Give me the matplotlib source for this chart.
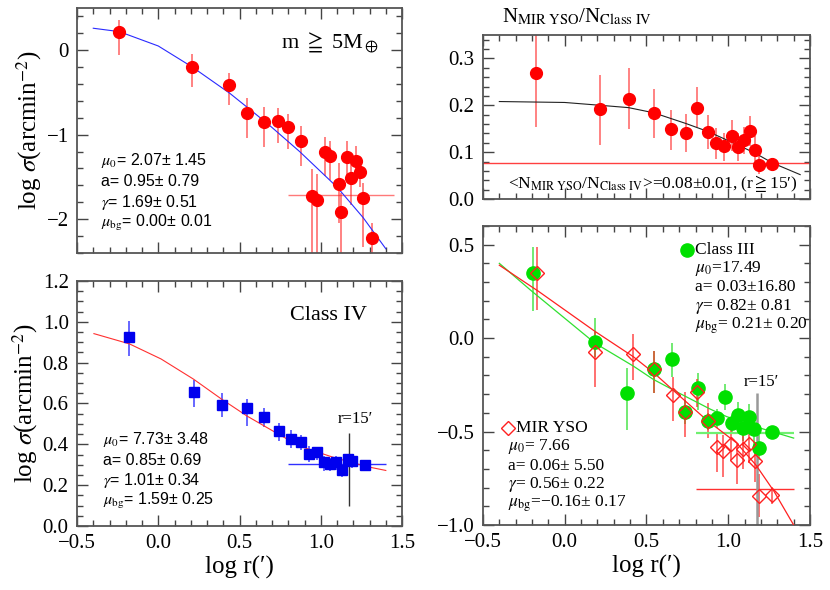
import numpy as np
import matplotlib
matplotlib.use("Agg")
import matplotlib.pyplot as plt
from matplotlib.ticker import MultipleLocator

plt.rcParams['font.family'] = ['Liberation Serif', 'DejaVu Serif']
plt.rcParams['mathtext.fontset'] = 'stix'
plt.rcParams['axes.unicode_minus'] = True

# ---- top left: m >= 5 M_earth ----
tl_x = [-0.24, 0.206, 0.437, 0.547, 0.649, 0.739, 0.80, 0.878, 0.943, 0.976,
        1.023, 1.054, 1.11, 1.123, 1.16, 1.184, 1.215, 1.241, 1.262, 1.315]
tl_y = [0.21, -0.198, -0.415, -0.74, -0.85, -0.84, -0.91, -1.07, -1.72, -1.77,
        -1.21, -1.25, -1.586, -1.92, -1.26, -1.51, -1.31, -1.44, -1.75, -2.22]
tl_hi = [0.36, -0.047, -0.27, -0.56, -0.67, -0.68, -0.76, -0.90, -1.41, -1.46,
         -1.03, -1.07, -1.34, -1.69, -1.08, -1.32, -1.13, -1.27, -1.57, -2.05]
tl_lo = [-0.06, -0.43, -0.65, -1.04, -1.15, -1.10, -1.17, -1.37, -2.5, -2.5,
         -1.49, -1.54, -2.04, -2.5, -1.55, -1.83, -1.53, -1.62, -2.33, -2.5]
tl_fit_x = [-0.40, -0.24, 0.0, 0.21, 0.44, 0.55, 0.65, 0.70, 0.87, 1.10, 1.26, 1.40]
tl_fit_y = [0.26, 0.22, 0.05, -0.20, -0.51, -0.68, -0.835, -0.915, -1.20, -1.62, -1.98, -2.35]
tl_bg_x = [0.80, 1.45]
tl_bg_y = -1.71
tl_params = [r'$\mu_{\rm 0}$= 2.07± 1.45', 'a= 0.95± 0.79',
             r'$\gamma$= 1.69± 0.51', r'$\mu_{\rm bg}$= 0.00± 0.01']

# ---- bottom left: Class IV ----
bl_x = [-0.178, 0.217, 0.390, 0.543, 0.651, 0.743, 0.817, 0.878, 0.929, 0.978,
        1.021, 1.058, 1.094, 1.131, 1.166, 1.19, 1.272]
bl_y = [0.927, 0.655, 0.594, 0.576, 0.532, 0.467, 0.426, 0.413, 0.354, 0.36,
        0.313, 0.306, 0.311, 0.272, 0.329, 0.318, 0.301]
bl_hi = [1.002, 0.716, 0.650, 0.624, 0.576, 0.505, 0.469, 0.448, 0.39, 0.382,
         0.341, 0.333, 0.341, 0.30, 0.354, 0.333, 0.324]
bl_lo = [0.831, 0.584, 0.535, 0.489, 0.486, 0.418, 0.382, 0.370, 0.311, 0.324,
         0.267, 0.267, 0.272, 0.242, 0.291, 0.283, 0.283]
bl_fit_x = [-0.396, -0.178, 0.017, 0.217, 0.390, 0.547, 0.743, 0.874, 1.078, 1.282, 1.40]
bl_fit_y = [0.942, 0.892, 0.818, 0.719, 0.621, 0.538, 0.448, 0.390, 0.336, 0.291, 0.272]
bl_bg_x = [0.80, 1.40]
bl_bg_y = 0.305
bl_params = [r'$\mu_{\rm 0}$= 7.73± 3.48', 'a= 0.85± 0.69',
             r'$\gamma$= 1.01± 0.34', r'$\mu_{\rm bg}$= 1.59± 0.25']

# ---- top right: ratio MIR YSO / Class IV ----
tr_x = [-0.176, 0.216, 0.391, 0.544, 0.652, 0.742, 0.811, 0.876, 0.927, 0.976,
        1.023, 1.06, 1.096, 1.133, 1.164, 1.19, 1.27]
tr_y = [0.269, 0.191, 0.214, 0.184, 0.149, 0.141, 0.194, 0.142, 0.119, 0.113,
        0.134, 0.111, 0.126, 0.146, 0.104, 0.072, 0.075]
tr_hi = [0.37, 0.264, 0.279, 0.234, 0.189, 0.181, 0.240, 0.179, 0.152, 0.141,
         0.168, 0.141, 0.154, 0.178, 0.134, 0.091, 0.086]
tr_lo = [0.154, 0.116, 0.149, 0.131, 0.104, 0.100, 0.154, 0.106, 0.086, 0.081,
         0.102, 0.081, 0.096, 0.114, 0.081, 0.053, 0.064]
tr_fit_x = [-0.40, 0.0, 0.216, 0.39, 0.544, 0.742, 0.876, 1.023, 1.164, 1.27, 1.44]
tr_fit_y = [0.208, 0.206, 0.200, 0.195, 0.184, 0.161, 0.144, 0.121, 0.098, 0.077, 0.052]
tr_mean = 0.077

# ---- bottom right: Class III (green) and MIR YSO (red) ----
g_x = [-0.196, 0.185, 0.379, 0.548, 0.658, 0.735, 0.817, 0.874, 0.929, 0.98,
       1.021, 1.062, 1.092, 1.129, 1.159, 1.188, 1.266]
g_y = [0.347, -0.021, -0.295, -0.166, -0.111, -0.394, -0.269, -0.444, -0.43, -0.314,
       -0.456, -0.412, -0.483, -0.424, -0.487, -0.59, -0.501]
g_hi = [0.487, 0.107, -0.161, -0.068, -0.027, -0.33, -0.188, -0.40, -0.38, -0.245,
        -0.41, -0.34, -0.43, -0.355, -0.43, -0.52, -0.47]
g_lo = [0.143, -0.10, -0.49, -0.295, -0.206, -0.46, -0.385, -0.49, -0.48, -0.385,
        -0.51, -0.483, -0.55, -0.487, -0.57, -0.653, -0.525]
r_x = [-0.168, 0.185, 0.419, 0.548, 0.66, 0.735, 0.807, 0.874, 0.929, 0.97,
       1.015, 1.056, 1.092, 1.129, 1.164, 1.188, 1.27]
r_y = [0.349, -0.072, -0.086, -0.166, -0.305, -0.394, -0.29, -0.444, -0.585, -0.604,
       -0.564, -0.653, -0.596, -0.568, -0.659, -0.845, -0.842]
r_hi = [0.487, 0.03, 0.023, -0.068, -0.206, -0.287, -0.22, -0.349, -0.50, -0.519,
        -0.475, -0.564, -0.52, -0.475, -0.555, -0.725, -0.797]
r_lo = [0.149, -0.263, -0.224, -0.295, -0.443, -0.528, -0.37, -0.537, -0.716, -0.743,
        -0.653, -0.779, -0.70, -0.67, -0.77, -0.958, -0.886]
g_fit_x = [-0.40, -0.20, 0.185, 0.42, 0.54, 0.69, 0.79, 0.89, 0.99, 1.19, 1.40]
g_fit_y = [0.40, 0.25, -0.027, -0.15, -0.22, -0.29, -0.335, -0.38, -0.42, -0.48, -0.535]
r_fit_x = [-0.40, -0.16, 0.185, 0.42, 0.55, 0.69, 0.87, 1.05, 1.17, 1.28, 1.40]
r_fit_y = [0.39, 0.25, 0.036, -0.10, -0.19, -0.30, -0.44, -0.56, -0.68, -0.82, -1.00]
g_bg_y = -0.51
r_bg_y = -0.81
br_bg_x = [0.80, 1.40]
g_params = [r'$\mu_{\rm 0}$=17.49', 'a= 0.03±16.80',
            r'$\gamma$= 0.82± 0.81', r'$\mu_{\rm bg}$= 0.21± 0.20']
r_params = [r'$\mu_{\rm 0}$= 7.66', 'a= 0.06± 5.50',
            r'$\gamma$= 0.56± 0.22', r'$\mu_{\rm bg}$=−0.16± 0.17']
r15_x = 1.175


def style_axis(ax, ylim, ymajor, yminor, xlabels=True):
    ax.set_xlim(-0.5, 1.5)
    ax.set_ylim(*ylim)
    ax.xaxis.set_major_locator(MultipleLocator(0.5))
    ax.xaxis.set_minor_locator(MultipleLocator(0.1))
    ax.yaxis.set_major_locator(MultipleLocator(ymajor))
    ax.yaxis.set_minor_locator(MultipleLocator(yminor))
    ax.tick_params(which='both', direction='in', top=True, right=True,
                   labelsize=15, color='#444444', pad=6)
    ax.tick_params(which='major', length=8, width=1)
    ax.tick_params(which='minor', length=4.5, width=1)
    if not xlabels:
        ax.tick_params(labelbottom=False)
    for s in ax.spines.values():
        s.set_color('#555555')
        s.set_linewidth(1.3)


def errbars(ax, x, y, lo, hi, color, alpha, lw=1.2):
    ax.vlines(x, lo, hi, color=color, alpha=alpha, lw=lw, zorder=2)


def param_text(ax, lines, x0, y0, dy, size, family):
    for i, t in enumerate(lines):
        ax.text(x0, y0 - i * dy, t, fontsize=size, family=family,
                ha='left', va='center')


fig = plt.figure(figsize=(8.3, 5.9), dpi=100)
sans = ['Liberation Sans', 'DejaVu Sans']
serif = ['Liberation Serif', 'DejaVu Serif']

# top left
ax = fig.add_axes([0.0928, 0.5712, 0.3916, 0.4153])
style_axis(ax, (-2.4, 0.5), 1, 0.2, xlabels=False)
errbars(ax, tl_x, tl_y, tl_lo, tl_hi, '#ff2020', 0.65)
ax.hlines(tl_bg_y, tl_bg_x[0], tl_bg_x[1], color='#ff2020', alpha=0.6, lw=1)
ax.plot(tl_fit_x, tl_fit_y, color='#2a2aff', lw=0.8, zorder=3)
ax.plot(tl_x, tl_y, 'o', color='#ff0000', ms=8.5, mec='#ff0000', zorder=4)
ax.text(1.36, 0.1, r'm $\geqq$ 5M$_\oplus$', fontsize=16, ha='right', va='center')
param_text(ax, tl_params, -0.35, -1.31, 0.245, 11.5, sans)
ax.set_ylabel(r'log $\sigma$(arcmin$^{-2}$)', fontsize=18, labelpad=2)

# bottom left
ax = fig.add_axes([0.0928, 0.1085, 0.3916, 0.4153])
style_axis(ax, (0, 1.2), 0.2, 0.05)
errbars(ax, bl_x, bl_y, bl_lo, bl_hi, '#2020ff', 0.8)
ax.hlines(bl_bg_y, bl_bg_x[0], bl_bg_x[1], color='#3030ff', lw=1)
ax.vlines(r15_x, 0.10, 0.456, color='#333333', lw=1)
ax.plot(bl_fit_x, bl_fit_y, color='#ff3030', lw=0.8, zorder=3)
ax.plot(bl_x, bl_y, 's', color='#0000ee', ms=6.5, zorder=4)
ax.text(1.05, 1.03, 'Class IV', fontsize=16, ha='center', va='center')
ax.text(1.21, 0.525, "r=15′", fontsize=12, ha='center', va='center')
param_text(ax, bl_params, -0.34, 0.423, 0.1, 11.5, sans)
ax.set_ylabel(r'log $\sigma$(arcmin$^{-2}$)', fontsize=18, labelpad=2)
ax.set_xlabel("log r(′)", fontsize=18, labelpad=2)

# top right
ax = fig.add_axes([0.5819, 0.6627, 0.394, 0.278])
style_axis(ax, (0, 0.35), 0.1, 0.02, xlabels=False)
errbars(ax, tr_x, tr_y, tr_lo, tr_hi, '#ff2020', 0.65)
ax.axhline(tr_mean, color='#ff4040', lw=1)
ax.plot(tr_fit_x, tr_fit_y, color='#222222', lw=0.8, zorder=3)
ax.plot(tr_x, tr_y, 'o', color='#ff0000', ms=8.5, zorder=4)
ax.text(0.54, 0.034,
        r'<N$_{\rm MIR\ YSO}$/N$_{\rm Class\ IV}$>=0.08±0.01, (r$\geqq$15′)',
        fontsize=12.5, ha='center', va='center')
fig.text(0.605, 0.972, r'N$_{\rm MIR\ YSO}$/N$_{\rm Class\ IV}$',
         fontsize=15, ha='left', va='center')

# bottom right
ax = fig.add_axes([0.5819, 0.1102, 0.394, 0.5068])
style_axis(ax, (-1, 0.6), 0.5, 0.1)
errbars(ax, g_x, g_y, g_lo, g_hi, '#30e030', 0.8)
errbars(ax, r_x, r_y, r_lo, r_hi, '#ff2020', 0.75)
ax.hlines(g_bg_y, br_bg_x[0], br_bg_x[1], color='#70f070', lw=1.6)
ax.hlines(r_bg_y, br_bg_x[0], br_bg_x[1], color='#ff3030', lw=1)
ax.vlines(r15_x, -1.0, -0.295, color='#999999', lw=1.8)
ax.plot(g_fit_x, g_fit_y, color='#30e030', lw=0.9, zorder=3)
ax.plot(r_fit_x, r_fit_y, color='#ff2020', lw=0.9, zorder=3)
ax.plot(g_x, g_y, 'o', color='#00e000', ms=9.5, zorder=4)
ax.plot(r_x, r_y, 'D', color='#ff2020', mfc='none', ms=7, mew=1, zorder=5)
ax.text(1.205, -0.236, "r=15′", fontsize=12, ha='center', va='center')
ax.plot([0.745], [0.47], 'o', color='#00e000', ms=9.5)
ax.text(0.795, 0.47, 'Class III', fontsize=12.5, ha='left', va='center')
param_text(ax, g_params, 0.795, 0.372, 0.101, 12.5, serif)
ax.plot([-0.345], [-0.483], 'D', color='#ff2020', mfc='none', ms=7, mew=1)
ax.text(-0.30, -0.483, 'MIR YSO', fontsize=12.5, ha='left', va='center')
param_text(ax, r_params, -0.345, -0.582, 0.101, 12.5, serif)
ax.set_xlabel("log r(′)", fontsize=18, labelpad=2)

plt.savefig("out.png", dpi=100)
